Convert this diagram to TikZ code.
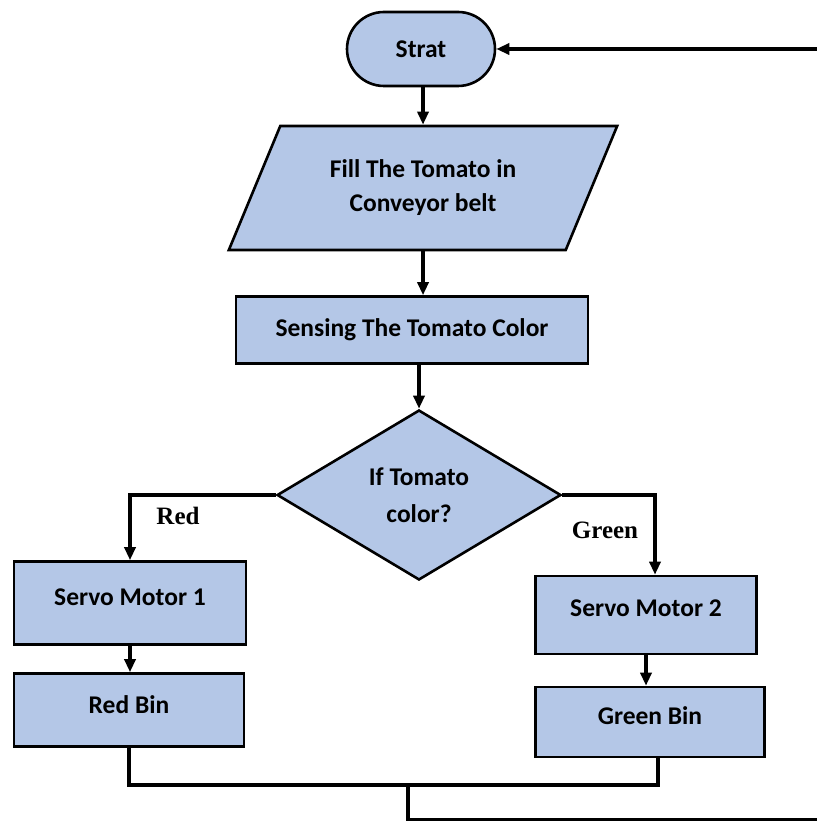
\documentclass[tikz,border=0pt]{standalone}
\usepackage{fontspec}
\setmainfont{Carlito}
\newfontfamily\branchfont{Liberation Serif}
\usetikzlibrary{shapes.geometric,shapes.misc,arrows.meta}
\definecolor{boxblue}{HTML}{B4C7E7}
\begin{document}
\begin{tikzpicture}[x=1pt,y=-1pt,
  base/.style={draw=black, fill=boxblue, line width=2.6pt, align=center, inner sep=0pt,
    font=\fontsize{25.5}{34}\selectfont\bfseries},
  terminal/.style={base, rounded rectangle, minimum width=148pt, minimum height=74pt},
  io/.style={base, trapezium, trapezium left angle=59, trapezium right angle=121,
    trapezium stretches=true, minimum width=389pt, minimum height=124pt},
  process/.style={base, rectangle},
  decision/.style={base, diamond, minimum width=284pt, minimum height=170pt,
    font=\fontsize{25.5}{37}\selectfont\bfseries},
  branch/.style={font=\branchfont\fontsize{25}{28}\selectfont\bfseries, inner sep=0pt},
  flow/.style={line width=3.2pt, -{Triangle[length=13pt,width=11pt]}},
  link/.style={line width=3.2pt}]
\useasboundingbox (0,0) rectangle (816,821);
% sorting loop: start, feed, sense, then one branch per colour
\node[terminal] (start) at (421,49) {Strat};
\node[io] (fill) at (423,188) {Fill The Tomato in\\Conveyor belt};
\node[process, minimum width=352pt, minimum height=67pt] (sense) at (412,330) {Sensing The Tomato Color};
\node[decision] (dec) at (419,495) {If Tomato\\color?};
\node[process, minimum width=232pt, minimum height=83pt, text depth=12pt] (sm1) at (130,603) {Servo Motor 1};
\node[process, minimum width=230pt, minimum height=73pt, text depth=10pt] (rb) at (129,710) {Red Bin};
\node[process, minimum width=221pt, minimum height=78pt, text depth=14pt] (sm2) at (646,615) {Servo Motor 2};
\node[process, minimum width=229pt, minimum height=70pt, text depth=12pt] (gb) at (650,722) {Green Bin};
\node[branch] (redlbl) at (178,516) {Red};
\node[branch] (greenlbl) at (605,530) {Green};
\coordinate (merge) at (408,785);
\coordinate (loop) at (820,820);
\draw[flow] (start.south -| fill.north) -- (fill.north);
\draw[flow] (fill.south) -- (fill.south |- sense.north);
\draw[flow] (dec.north |- sense.south) -- (dec.north);
\draw[flow] (dec.west) -| (sm1.north);
\draw[flow] (dec.east) -| ([xshift=9pt]sm2.north);
\draw[flow] (sm1.south) -- (sm1.south |- rb.north);
\draw[flow] (sm2.south) -- (sm2.south |- gb.north);
\draw[link] (rb.south) |- ([xshift=8pt]gb.south |- merge) -- ([xshift=8pt]gb.south);
\draw[link] (merge) |- (loop);
\draw[flow] (start.east -| loop) -- (start.east);
\end{tikzpicture}
\end{document}
